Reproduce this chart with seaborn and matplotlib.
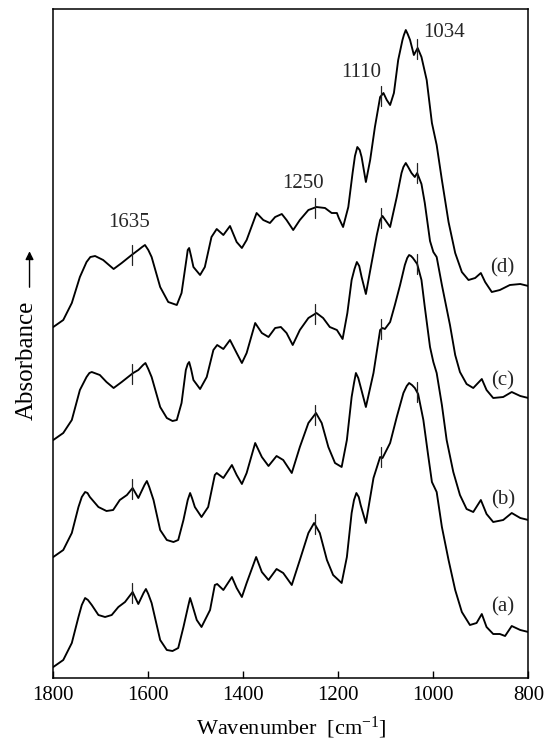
import numpy as np
import pandas as pd
import matplotlib
matplotlib.use("Agg")
import matplotlib.pyplot as plt
import seaborn as sns

# FT-IR spectra (wavenumber in cm-1, absorbance in arbitrary units above each baseline)
wn_a = [1800, 1779, 1761, 1747, 1740, 1733, 1727, 1719, 1705, 1691, 1677, 1663, 1649, 1633, 1621,
        1610, 1605, 1600, 1593, 1575, 1561, 1549, 1537, 1526, 1516, 1512, 1508, 1498, 1488, 1470,
        1460, 1455, 1442, 1424, 1414, 1403, 1393, 1373, 1361, 1347, 1330, 1316, 1298, 1281, 1263,
        1251, 1239, 1224, 1211, 1193, 1182, 1172, 1167, 1162, 1157, 1153, 1142, 1126, 1112, 1107,
        1091, 1077, 1063, 1056, 1051, 1045, 1039, 1032, 1021, 1011, 1003, 993, 982, 968, 954,
        940, 923, 909, 898, 888, 874, 860, 849, 835, 817, 800]
abs_a = [0.03, 0.10, 0.27, 0.53, 0.65, 0.72, 0.70, 0.65, 0.55, 0.53, 0.55, 0.63, 0.68, 0.78, 0.66,
         0.77, 0.81, 0.76, 0.67, 0.30, 0.20, 0.19, 0.22, 0.43, 0.64, 0.72, 0.66, 0.50, 0.43, 0.60,
         0.85, 0.86, 0.80, 0.93, 0.82, 0.73, 0.87, 1.13, 0.98, 0.90, 1.01, 0.97, 0.85, 1.10, 1.37,
         1.47, 1.37, 1.10, 0.95, 0.87, 1.13, 1.57, 1.70, 1.77, 1.73, 1.65, 1.47, 1.92, 2.13, 2.12,
         2.27, 2.53, 2.77, 2.84, 2.87, 2.85, 2.82, 2.76, 2.50, 2.15, 1.88, 1.78, 1.43, 1.10, 0.80,
         0.58, 0.45, 0.47, 0.56, 0.43, 0.36, 0.36, 0.34, 0.44, 0.40, 0.38]

wn_b = [1800, 1779, 1761, 1747, 1740, 1733, 1728, 1723, 1705, 1688, 1674, 1660, 1645, 1633, 1621,
        1608, 1603, 1598, 1589, 1575, 1561, 1547, 1537, 1526, 1517, 1512, 1508, 1502, 1488, 1474,
        1460, 1456, 1442, 1424, 1414, 1403, 1393, 1375, 1361, 1347, 1330, 1316, 1298, 1281, 1263,
        1247, 1235, 1221, 1207, 1193, 1182, 1172, 1167, 1163, 1158, 1153, 1142, 1126, 1112, 1107,
        1102, 1091, 1081, 1070, 1060, 1055, 1051, 1047, 1043, 1034, 1025, 1018, 1007, 1000, 993,
        982, 972, 958, 944, 930, 916, 900, 888, 874, 853, 835, 817, 800]
abs_b = [0.03, 0.10, 0.27, 0.53, 0.63, 0.68, 0.67, 0.63, 0.53, 0.49, 0.50, 0.60, 0.65, 0.72, 0.62,
         0.75, 0.79, 0.73, 0.60, 0.30, 0.20, 0.18, 0.20, 0.40, 0.60, 0.67, 0.62, 0.53, 0.43, 0.53,
         0.85, 0.87, 0.82, 0.95, 0.85, 0.76, 0.87, 1.17, 1.03, 0.94, 1.04, 1.00, 0.87, 1.13, 1.37,
         1.47, 1.37, 1.13, 0.97, 0.93, 1.20, 1.63, 1.77, 1.87, 1.82, 1.73, 1.53, 1.87, 2.30, 2.32,
         2.31, 2.38, 2.55, 2.75, 2.95, 3.02, 3.05, 3.04, 3.02, 2.96, 2.80, 2.53, 2.13, 1.98, 1.87,
         1.55, 1.20, 0.88, 0.65, 0.51, 0.48, 0.60, 0.46, 0.38, 0.40, 0.47, 0.42, 0.40]

wn_c = [1800, 1779, 1761, 1744, 1730, 1724, 1719, 1702, 1688, 1673, 1656, 1632, 1621, 1611, 1606,
        1600, 1593, 1575, 1561, 1549, 1540, 1530, 1521, 1517, 1514, 1510, 1505, 1491, 1477, 1463,
        1455, 1442, 1428, 1414, 1403, 1393, 1375, 1361, 1347, 1333, 1321, 1309, 1296, 1281, 1263,
        1246, 1232, 1218, 1203, 1191, 1181, 1172, 1166, 1161, 1156, 1151, 1142, 1130, 1119, 1112,
        1107, 1091, 1077, 1067, 1063, 1058, 1053, 1046, 1039, 1034, 1025, 1018, 1007, 1000, 993,
        982, 965, 954, 944, 930, 916, 898, 888, 874, 853, 835, 817, 800]
abs_c = [0.03, 0.10, 0.23, 0.53, 0.66, 0.70, 0.71, 0.68, 0.61, 0.55, 0.61, 0.70, 0.73, 0.78, 0.80,
         0.74, 0.66, 0.36, 0.25, 0.22, 0.23, 0.40, 0.73, 0.79, 0.81, 0.74, 0.63, 0.54, 0.66, 0.93,
         0.98, 0.94, 1.03, 0.90, 0.80, 0.90, 1.20, 1.10, 1.06, 1.15, 1.16, 1.10, 0.98, 1.13, 1.25,
         1.30, 1.25, 1.16, 1.13, 1.04, 1.30, 1.63, 1.74, 1.81, 1.77, 1.66, 1.49, 1.80, 2.08, 2.23,
         2.27, 2.16, 2.46, 2.70, 2.76, 2.80, 2.76, 2.70, 2.66, 2.70, 2.59, 2.40, 2.02, 1.91, 1.86,
         1.58, 1.18, 0.88, 0.71, 0.59, 0.55, 0.64, 0.53, 0.45, 0.46, 0.51, 0.47, 0.45]

wn_d = [1800, 1779, 1761, 1744, 1730, 1722, 1712, 1695, 1673, 1656, 1635, 1621, 1613, 1607, 1600,
        1593, 1575, 1558, 1540, 1530, 1519, 1517, 1514, 1510, 1505, 1491, 1481, 1467, 1456, 1442,
        1428, 1414, 1403, 1393, 1372, 1358, 1344, 1333, 1319, 1309, 1295, 1281, 1263, 1246, 1228,
        1214, 1203, 1199, 1190, 1179, 1170, 1165, 1160, 1155, 1151, 1142, 1133, 1123, 1112, 1105,
        1098, 1091, 1083, 1074, 1065, 1062, 1058, 1054, 1049, 1041, 1033, 1025, 1014, 1003, 993,
        982, 968, 954, 940, 926, 912, 900, 891, 877, 860, 839, 817, 800]
abs_d = [0.03, 0.10, 0.27, 0.53, 0.68, 0.73, 0.74, 0.70, 0.61, 0.67, 0.75, 0.80, 0.83, 0.85, 0.80,
         0.73, 0.43, 0.28, 0.25, 0.37, 0.73, 0.80, 0.82, 0.74, 0.63, 0.55, 0.63, 0.93, 1.01, 0.95,
         1.04, 0.88, 0.82, 0.90, 1.17, 1.10, 1.07, 1.13, 1.16, 1.10, 1.00, 1.10, 1.20, 1.23, 1.22,
         1.17, 1.17, 1.12, 1.03, 1.23, 1.57, 1.74, 1.83, 1.80, 1.73, 1.48, 1.70, 2.03, 2.33, 2.37,
         2.30, 2.25, 2.37, 2.70, 2.90, 2.95, 3.00, 2.96, 2.90, 2.75, 2.82, 2.73, 2.50, 2.07, 1.85,
         1.50, 1.08, 0.77, 0.58, 0.50, 0.52, 0.57, 0.48, 0.38, 0.40, 0.45, 0.46, 0.44]

sample_labels = ["(a)", "(b)", "(c)", "(d)"]
stack_offsets = [0.08, 1.18, 2.35, 3.48]
label_heights = [0.71, 1.78, 2.97, 4.10]
band_positions = [1635, 1250, 1110, 1034]
band_labels = ["1635", "1250", "1110", "1034"]
band_label_x = [1640, 1274, 1152, 978]
band_label_y = [4.56, 4.95, 6.06, 6.46]
x_ticks = [1800, 1600, 1400, 1200, 1000, 800]

spectra = [(wn_a, abs_a), (wn_b, abs_b), (wn_c, abs_c), (wn_d, abs_d)]

frames = []
for label, (wn, ab), off in zip(sample_labels, spectra, stack_offsets):
    assert len(wn) == len(ab)
    frames.append(pd.DataFrame({"wavenumber": wn,
                                "absorbance": np.asarray(ab) + off,
                                "sample": label}))
df = pd.concat(frames, ignore_index=True)

sns.set_theme(style="white")
plt.rcParams["font.family"] = ["Liberation Serif", "DejaVu Sans"]
plt.rcParams["mathtext.default"] = "regular"

fig = plt.figure(figsize=(5.55, 7.51), dpi=100)
ax = fig.add_axes([0.096, 0.0972, 0.856, 0.8908])

sns.lineplot(data=df, x="wavenumber", y="absorbance", units="sample", estimator=None,
             color="black", linewidth=1.35, ax=ax, legend=False,
             solid_joinstyle="round", solid_capstyle="round")

# short vertical ticks marking the assigned bands on every spectrum
for (wn, ab), off in zip(spectra, stack_offsets):
    order = np.argsort(wn)
    xs = np.asarray(wn)[order]
    ys = np.asarray(ab)[order]
    for band in band_positions:
        yv = np.interp(band, xs, ys) + off
        ax.plot([band, band], [yv - 0.10, yv + 0.10], color="#222222", linewidth=0.9)

# band annotations above the top spectrum
for txt, bx, by in zip(band_labels, band_label_x, band_label_y):
    ax.text(bx, by, txt, ha="center", va="center", fontsize=15)

# sample labels at the right end of each spectrum
for label, yv in zip(sample_labels, label_heights):
    ax.text(854, yv, label, ha="center", va="center", fontsize=15)

ax.set_xlim(1800, 800)
ax.set_ylim(0, 6.69)
ax.set_xticks(x_ticks)
ax.set_xticklabels([str(t) for t in x_ticks])
ax.set_yticks([])
ax.tick_params(axis="x", direction="in", length=5, width=1.0, labelsize=15, pad=6,
               bottom=True, top=False, colors="black")
for sp in ax.spines.values():
    sp.set_color("black")
    sp.set_linewidth(1.1)

ax.set_xlabel("Wavenumber  [cm$^{-1}$]", fontsize=16, labelpad=7, color="black")
ax.set_ylabel("")
ax.text(-0.0554, 0.475, "Absorbance", transform=ax.transAxes, rotation=90,
        ha="center", va="center", fontsize=18, color="black")
ax.annotate("", xy=(-0.050, 0.642), xytext=(-0.050, 0.580), xycoords="axes fraction",
            textcoords="axes fraction", annotation_clip=False,
            arrowprops=dict(arrowstyle="-|>", color="black", lw=1.0, mutation_scale=12))

fig.savefig("out.png", dpi=100)
